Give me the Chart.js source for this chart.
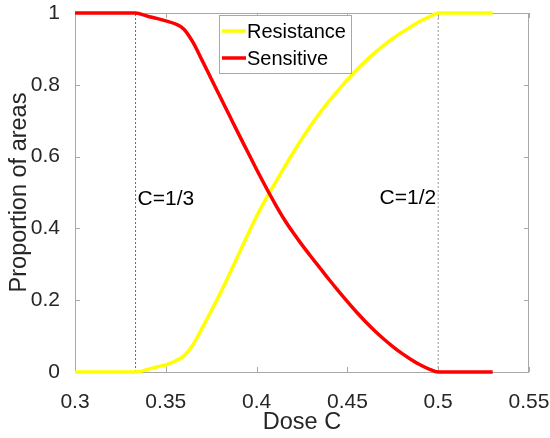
<!DOCTYPE html>
<html>
<head>
<meta charset="utf-8">
<script src="https://cdn.jsdelivr.net/npm/chart.js@4.4.1/dist/chart.umd.min.js"></script>
<style>
  html, body { margin: 0; padding: 0; background: #fff; }
</style>
</head>
<body>
<canvas id="myChart" width="550" height="438"></canvas>
<script>
// valori
const dose = [0.3, 0.3333, 0.34, 0.345, 0.35, 0.355, 0.36, 0.365, 0.37, 0.375, 0.38, 0.385, 0.39, 0.395,
  0.4, 0.405, 0.41, 0.415, 0.42, 0.425, 0.43, 0.435, 0.44, 0.445, 0.45, 0.455, 0.46, 0.465, 0.47, 0.475,
  0.48, 0.485, 0.49, 0.495, 0.5, 0.53];
const resistance = [0, 0, 0.007, 0.014, 0.020, 0.030, 0.045, 0.076, 0.122, 0.170, 0.219, 0.272, 0.327, 0.381,
  0.434, 0.481, 0.525, 0.568, 0.610, 0.650, 0.688, 0.723, 0.755, 0.785, 0.814, 0.841, 0.866, 0.889, 0.910, 0.929,
  0.946, 0.962, 0.977, 0.989, 1, 1];
const sensitive = [1, 1, 0.991, 0.985, 0.978, 0.970, 0.955, 0.918, 0.868, 0.817, 0.766, 0.715, 0.664, 0.614,
  0.564, 0.516, 0.470, 0.427, 0.389, 0.354, 0.321, 0.289, 0.257, 0.226, 0.196, 0.167, 0.140, 0.115, 0.092, 0.071,
  0.052, 0.035, 0.020, 0.008, 0, 0];
const xTicks = [0.3, 0.35, 0.4, 0.45, 0.5, 0.55];
const xTickLabels = ['0.3', '0.35', '0.4', '0.45', '0.5', '0.55'];
const yTicks = [0, 0.2, 0.4, 0.6, 0.8, 1];
const yTickLabels = ['0', '0.2', '0.4', '0.6', '0.8', '1'];
const markers = [1 / 3, 0.5];           // linee verticali tratteggiate
const markerLabels = ['C=1/3', 'C=1/2'];
const markerLabelY = [0.465, 0.469];

const FONT = "'Liberation Sans', Arial, sans-serif";
const TEXT = '#262626';
const AXIS = '#a8a8a8';

const pts = (ys) => dose.map((x, i) => ({ x: x, y: ys[i] }));

// box, tacche interne, etichette C=..., legenda
const matlabLook = {
  id: 'matlabLook',
  beforeDatasetsDraw(chart) {
    const { ctx, chartArea: a, scales: { x, y } } = chart;
    ctx.save();
    ctx.strokeStyle = AXIS;
    ctx.lineWidth = 1;
    ctx.strokeRect(a.left + 0.5, a.top + 0.5, a.right - a.left - 1, a.bottom - a.top);
    ctx.beginPath();
    xTicks.forEach(v => {
      const px = Math.round(x.getPixelForValue(v)) + 0.5;
      ctx.moveTo(px, a.bottom); ctx.lineTo(px, a.bottom - 5);
      ctx.moveTo(px, a.top); ctx.lineTo(px, a.top + 5);
    });
    yTicks.forEach(v => {
      const py = Math.round(y.getPixelForValue(v)) + 0.5;
      ctx.moveTo(a.left, py); ctx.lineTo(a.left + 5, py);
      ctx.moveTo(a.right, py); ctx.lineTo(a.right - 5, py);
    });
    ctx.stroke();
    ctx.restore();
  },
  afterDraw(chart) {
    const { ctx, chartArea: a, scales: { x, y } } = chart;
    ctx.save();
    ctx.fillStyle = '#000';
    ctx.font = '21px ' + FONT;
    ctx.textBaseline = 'alphabetic';
    ctx.textAlign = 'left';
    ctx.fillText(markerLabels[0], x.getPixelForValue(markers[0]) + 2, y.getPixelForValue(markerLabelY[0]));
    ctx.textAlign = 'right';
    ctx.fillText(markerLabels[1], x.getPixelForValue(markers[1]) - 2, y.getPixelForValue(markerLabelY[1]));

    // legenda
    const lx = a.left + 144, ly = a.top + 2, lw = 132, lh = 58;
    ctx.fillStyle = '#fff';
    ctx.fillRect(lx, ly, lw, lh);
    ctx.strokeStyle = AXIS;
    ctx.lineWidth = 1;
    ctx.strokeRect(lx + 0.5, ly + 0.5, lw, lh);
    const items = [chart.data.datasets[1], chart.data.datasets[0]];
    ctx.font = '20px ' + FONT;
    ctx.textAlign = 'left';
    ctx.textBaseline = 'middle';
    items.forEach((ds, i) => {
      const cy = ly + 16 + i * 27;
      ctx.strokeStyle = ds.borderColor;
      ctx.lineWidth = 3.5;
      ctx.beginPath();
      ctx.moveTo(lx + 3, cy); ctx.lineTo(lx + 27, cy);
      ctx.stroke();
      ctx.fillStyle = '#000';
      ctx.fillText(ds.label, lx + 28, cy + 1);
    });
    ctx.restore();
  }
};

const ctx = document.getElementById('myChart');
new Chart(ctx, {
  type: 'line',
  data: {
    datasets: [
      { label: 'Sensitive', data: pts(sensitive), borderColor: '#ff0000', borderWidth: 3.5,
        pointRadius: 0, cubicInterpolationMode: 'monotone', order: 1, clip: 6 },
      { label: 'Resistance', data: pts(resistance), borderColor: '#ffff00', borderWidth: 3.5,
        pointRadius: 0, cubicInterpolationMode: 'monotone', order: 2, clip: 6 },
      { label: 'm1', data: [{ x: markers[0], y: 0 }, { x: markers[0], y: 1 }], borderColor: '#6a6a6a',
        borderWidth: 1, borderDash: [2, 2], pointRadius: 0, order: 3 },
      { label: 'm2', data: [{ x: markers[1], y: 0 }, { x: markers[1], y: 1 }], borderColor: '#9a9a9a',
        borderWidth: 1, borderDash: [2, 2], pointRadius: 0, order: 3 }
    ]
  },
  options: {
    responsive: false,
    animation: false,
    devicePixelRatio: 1,
    layout: { padding: { top: 13, right: 21, left: 0, bottom: 0 } },
    plugins: { legend: { display: false }, tooltip: { enabled: false } },
    scales: {
      x: {
        type: 'linear', min: 0.3, max: 0.55,
        afterBuildTicks: s => { s.ticks = xTicks.map(v => ({ value: v })); },
        afterFit: s => { s.height = 66; s.paddingLeft = 0; s.paddingRight = 0; },
        grid: { display: false },
        border: { display: false },
        ticks: { callback: (v, i) => xTickLabels[i], color: TEXT, padding: 10,
          maxRotation: 0, font: { family: FONT, size: 21 } },
        title: { display: true, text: 'Dose C', color: TEXT, padding: { top: 0, bottom: 1 },
          font: { family: FONT, size: 23.5 } }
      },
      y: {
        type: 'linear', min: 0, max: 1,
        afterBuildTicks: s => { s.ticks = yTicks.map(v => ({ value: v })); },
        afterFit: s => { s.width = 75; s.paddingTop = 0; s.paddingBottom = 0; },
        grid: { display: false },
        border: { display: false },
        ticks: { callback: (v, i) => yTickLabels[i], color: TEXT, padding: 7,
          font: { family: FONT, size: 21 } },
        title: { display: true, text: 'Proportion of areas', color: TEXT, padding: { top: 5, bottom: 0 },
          font: { family: FONT, size: 23.5 } }
      }
    }
  },
  plugins: [matlabLook]
});
</script>
</body>
</html>
